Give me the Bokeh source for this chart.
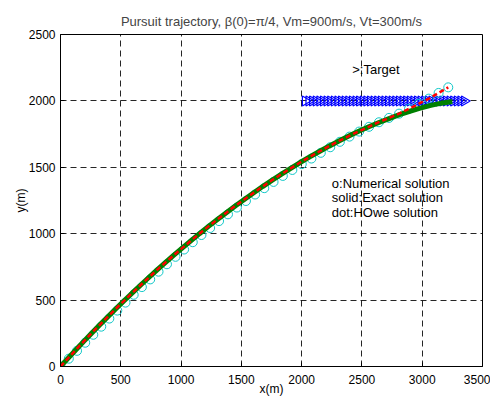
import numpy as np
from bokeh.plotting import figure
from bokeh.models import FixedTicker, Range1d
from bokeh.core.properties import value
from bokeh.embed import file_html
from bokeh.resources import INLINE

title_text = "Pursuit trajectory, β(0)=π/4, Vm=900m/s, Vt=300m/s"
x_label = "x(m)"
y_label = "y(m)"
x_ticks = [0, 500, 1000, 1500, 2000, 2500, 3000, 3500]
y_ticks = [0, 500, 1000, 1500, 2000, 2500]

# exact solution (green solid)
exact_x = [0, 64, 128, 193, 258, 324, 391, 457, 525, 593, 661, 730, 799, 869, 940,
           1011, 1083, 1155, 1227, 1301, 1375, 1449, 1524, 1600, 1676, 1753, 1830,
           1909, 1987, 2067, 2147, 2227, 2309, 2391, 2473, 2557, 2641, 2725, 2811,
           2897, 2984, 3071, 3160, 3249]
exact_y = [0, 63, 126, 189, 251, 312, 373, 433, 493, 552, 610, 668, 726, 782, 838,
           893, 948, 1002, 1055, 1107, 1158, 1209, 1258, 1307, 1355, 1402, 1447,
           1492, 1536, 1578, 1619, 1659, 1698, 1735, 1771, 1805, 1837, 1867, 1896,
           1922, 1945, 1966, 1983, 1996]

# numerical solution (cyan circles)
num_x = [0, 69, 137, 205, 272, 338, 405, 471, 539, 607, 675, 744, 813, 883, 954,
         1025, 1097, 1169, 1241, 1315, 1389, 1463, 1538, 1614, 1690, 1767, 1844,
         1923, 2001, 2081, 2159, 2237, 2317, 2397, 2477, 2559, 2641, 2725, 2808,
         2891, 2973, 3055, 3136, 3216]
num_y = [0, 59, 118, 179, 239, 300, 361, 421, 481, 540, 598, 656, 714, 770, 826,
         881, 936, 990, 1043, 1095, 1146, 1197, 1246, 1295, 1343, 1390, 1435,
         1480, 1524, 1566, 1609, 1651, 1692, 1731, 1769, 1805, 1839, 1872, 1904,
         1941, 1979, 2017, 2060, 2102]

# Howe solution (red dotted)
howe_x = [0, 64, 128, 193, 258, 324, 391, 457, 525, 593, 661, 730, 799, 869, 940,
          1011, 1083, 1155, 1227, 1301, 1375, 1449, 1524, 1600, 1676, 1753, 1830,
          1909, 1987, 2067, 2147, 2227, 2309, 2391, 2473, 2557, 2641, 2725, 2808,
          2891, 2973, 3055, 3136, 3216]
howe_y = [0, 63, 126, 189, 251, 312, 373, 433, 493, 552, 610, 668, 726, 782, 838,
          893, 948, 1002, 1055, 1107, 1158, 1209, 1258, 1307, 1355, 1402, 1447,
          1492, 1536, 1578, 1619, 1659, 1698, 1735, 1771, 1805, 1840, 1872, 1904,
          1941, 1979, 2017, 2060, 2102]

# target (blue right-pointing triangles)
target_x = [2030, 2060, 2090, 2120, 2150, 2180, 2210, 2240, 2270, 2300, 2330, 2360,
            2390, 2420, 2450, 2480, 2510, 2540, 2570, 2600, 2630, 2660, 2690, 2720,
            2750, 2780, 2810, 2840, 2870, 2900, 2930, 2960, 2990, 3020, 3050, 3080,
            3110, 3140, 3170, 3200, 3230, 3260, 3290, 3320, 3350]
target_y = [2000] * len(target_x)

note_x = [2420, 2250, 2250, 2250]
note_y = [2240, 1380, 1275, 1160]
note_text = [">:Target", "o:Numerical solution", "solid:Exact solution", "dot:HOwe solution"]

FONT = "Liberation Sans"

p = figure(frame_width=422, frame_height=332,
           x_range=Range1d(0, 3500), y_range=Range1d(0, 2500),
           output_backend="svg", toolbar_location=None,
           min_border_left=60, min_border_right=8,
           min_border_top=34, min_border_bottom=20)

p.title.text = title_text
p.title.align = "center"
p.title.text_font = FONT
p.title.text_font_style = "normal"
p.title.text_font_size = "13px"
p.title.standoff = 11

p.xaxis.ticker = FixedTicker(ticks=x_ticks)
p.yaxis.ticker = FixedTicker(ticks=y_ticks)
p.xaxis.axis_label = x_label
p.yaxis.axis_label = y_label
for ax in (p.xaxis, p.yaxis):
    ax.major_tick_in = 4
    ax.major_tick_out = 0
    ax.minor_tick_line_color = None
    ax.axis_line_color = "black"
    ax.major_tick_line_color = "black"
    ax.major_label_text_font = FONT
    ax.major_label_text_font_size = "12px"
    ax.major_label_text_color = "black"
    ax.axis_label_text_font = FONT
    ax.axis_label_text_font_size = "12px"
    ax.axis_label_text_font_style = "normal"
    ax.axis_label_text_color = "black"
p.xaxis.major_label_standoff = 8
p.xaxis.axis_label_standoff = -5
p.yaxis.major_label_standoff = 5
p.yaxis.axis_label_standoff = -2

p.outline_line_color = "black"
p.outline_line_alpha = 1
p.grid.grid_line_color = "black"
p.grid.grid_line_alpha = 0.85
p.grid.grid_line_dash = "6 4"
p.background_fill_color = "white"
p.border_fill_color = "white"

p.scatter(target_x, target_y, marker="triangle", size=10, angle=-np.pi / 2,
          line_color="#0000FF", fill_alpha=0, line_width=1.2)
p.scatter(num_x, num_y, marker="circle", size=9, line_color="#10C8C8",
          fill_alpha=0, line_width=1)
p.line(exact_x, exact_y, line_color="#008000", line_width=5)
p.line(howe_x, howe_y, line_color="#FF0000", line_width=2.5, line_dash="5 3")
p.text(note_x, note_y, text=note_text, text_font=value(FONT), text_font_size="13px",
       text_baseline="middle", text_align="left", text_color="black")

open("out.html", "w").write(file_html(p, INLINE))
